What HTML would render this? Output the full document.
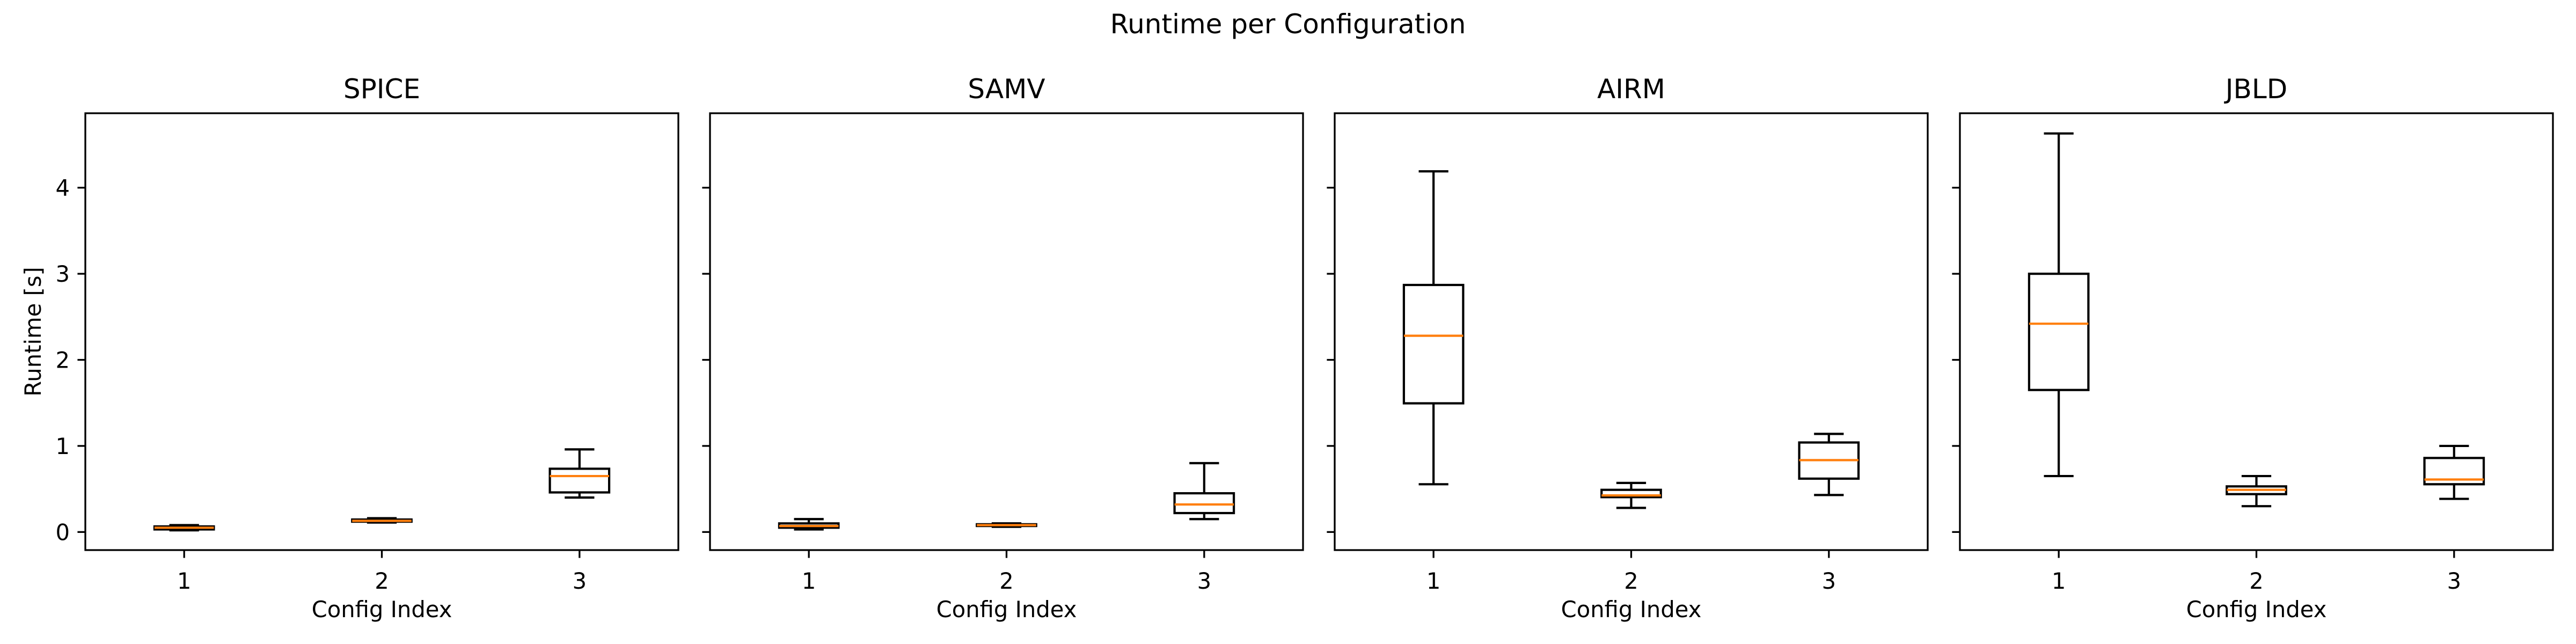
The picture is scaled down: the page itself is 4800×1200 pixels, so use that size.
<!DOCTYPE html>
<html><head><meta charset="utf-8"><style>
html,body{margin:0;padding:0;background:#fff;}
svg{display:block;font-family:"DejaVu Sans","Liberation Sans",sans-serif;}
</style></head><body>
<svg id="chart" width="4800" height="1200" viewBox="0 0 4800 1200" xmlns="http://www.w3.org/2000/svg">
<rect width="4800" height="1200" fill="#fff"/>
<text x="2400" y="62" font-size="50" text-anchor="middle">Runtime per Configuration</text>
</svg>
<script>
const panelNames = ["SPICE","SAMV","AIRM","JBLD"];
const categories = [1,2,3];
const yTicks = [0,1,2,3,4];
// [whiskerLow, q1, median, q3, whiskerHigh] per config
const spiceStats = [[0.02,0.03,0.05,0.065,0.08],[0.11,0.12,0.13,0.145,0.16],[0.40,0.46,0.65,0.735,0.96]];
const samvStats  = [[0.03,0.05,0.07,0.10,0.15],[0.06,0.07,0.08,0.09,0.10],[0.15,0.22,0.32,0.45,0.80]];
const airmStats  = [[0.555,1.495,2.28,2.87,4.19],[0.28,0.405,0.425,0.49,0.57],[0.43,0.62,0.835,1.04,1.14]];
const jbldStats  = [[0.65,1.65,2.42,3.0,4.63],[0.30,0.44,0.49,0.53,0.65],[0.385,0.555,0.61,0.86,1.0]];
const allStats = [spiceStats, samvStats, airmStats, jbldStats];

const svg = document.getElementById('chart');
const NS = "http://www.w3.org/2000/svg";
const top0 = 211, bot0 = 1025, W = 1105, lefts = [159,1323,2487,3652];
const yMin = -0.21, yMax = 4.865;
function yScale(v){ return bot0 - (v - yMin) / (yMax - yMin) * (bot0 - top0); }
function mk(tag, attrs, parent){
  const e = document.createElementNS(NS, tag);
  for (const k in attrs) e.setAttribute(k, attrs[k]);
  (parent || svg).appendChild(e);
  return e;
}
panelNames.forEach((name, p) => {
  const L = lefts[p];
  const xScale = c => L + (c - 0.5) / 3 * W;
  const g = mk('g', {});
  
  
  const t = mk('text', {x: L + W/2, y: 183, 'font-size': 50, 'text-anchor': 'middle'}, g);
  t.textContent = name;
  
  
  // y ticks
  yTicks.forEach(v => {
    const y = yScale(v);
    const tk = mk('line', {x1: L - 14.6, x2: L, y1: y, y2: y, stroke: '#000', 'stroke-width': 3.3}, g);
    
    
    if (p === 0) {
      const tl = mk('text', {x: L - 29, y: y + 15, 'font-size': 41.7, 'text-anchor': 'end'}, g);
      tl.textContent = v;
      
      
    }
  });
  // boxes
  const stats = allStats[p];
  categories.forEach((c, i) => {
    const s = stats[i];
    const cx = xScale(c), hw = 0.15 / 3 * W, cw = 0.075 / 3 * W;
    const bg = mk('g', {stroke: '#000', 'stroke-width': 4.2, fill: 'none'}, g);
    
    
    mk('line', {x1: cx, x2: cx, y1: yScale(s[0]), y2: yScale(s[1])}, bg);
    mk('line', {x1: cx, x2: cx, y1: yScale(s[3]), y2: yScale(s[4])}, bg);
    mk('line', {x1: cx - cw, x2: cx + cw, y1: yScale(s[0]), y2: yScale(s[0])}, bg);
    mk('line', {x1: cx - cw, x2: cx + cw, y1: yScale(s[4]), y2: yScale(s[4])}, bg);
    mk('rect', {x: cx - hw, y: yScale(s[3]), width: 2*hw, height: yScale(s[1]) - yScale(s[3])}, bg);
    mk('line', {x1: cx - hw, x2: cx + hw, y1: yScale(s[2]), y2: yScale(s[2]), stroke: '#ff7f0e'}, bg);
    const xt = mk('line', {x1: cx, x2: cx, y1: bot0, y2: bot0 + 14.6, stroke: '#000', 'stroke-width': 3.3}, g);
    
    
    const xl = mk('text', {x: cx, y: bot0 + 72, 'font-size': 41.7, 'text-anchor': 'middle'}, g);
    xl.textContent = c;
    
    
  });
  const fr = mk('rect', {x: L, y: top0, width: W, height: bot0 - top0, fill: 'none', stroke: '#000', 'stroke-width': 3.3}, g);
  
  
  const xlab = mk('text', {x: L + W/2, y: 1150, 'font-size': 41.7, 'text-anchor': 'middle'}, g);
  xlab.textContent = 'Config Index';
  
  
});
const yl = mk('text', {x: 0, y: 0, 'font-size': 41.7, 'text-anchor': 'middle', transform: 'translate(76,' + ((top0+bot0)/2) + ') rotate(-90)'});
yl.textContent = 'Runtime [s]';


</script>
</body></html>
